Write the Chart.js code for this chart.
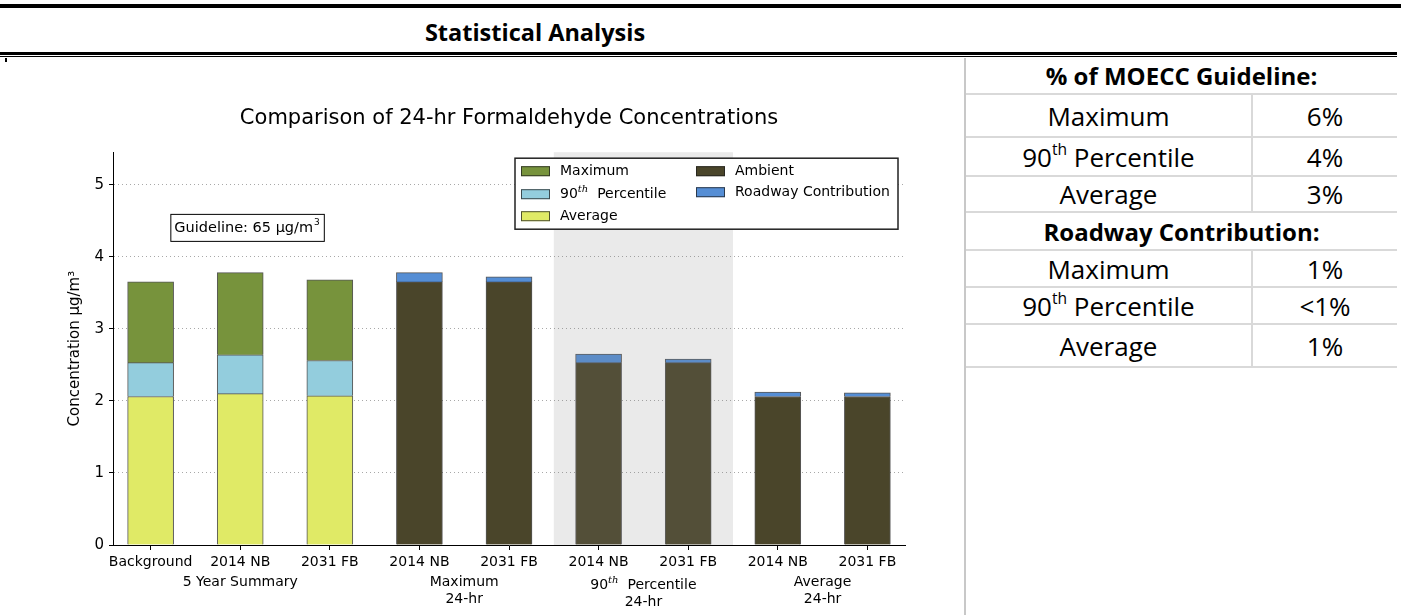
<!DOCTYPE html>
<html>
<head>
<meta charset="utf-8">
<script src="https://cdn.jsdelivr.net/npm/chart.js@4.4.0/dist/chart.umd.min.js"></script>
<style>
  body { margin: 0; background: #fff; width: 1401px; height: 615px; position: relative; overflow: hidden; font-family: 'Open Sans', sans-serif; color: #000; }
  .rule-top { position: absolute; left: 0; top: 4px; width: 1401px; height: 4px; background: #000; }
  .heading { position: absolute; left: 335px; width: 400px; top: 15px; text-align: center; font-weight: bold; font-size: 23.5px; line-height: 34px; }
  .rule-thick { position: absolute; left: 0; top: 52px; width: 1397px; height: 3px; background: #000; }
  .rule-thin { position: absolute; left: 0; top: 56px; width: 1397px; height: 1px; background: #000; }
  .mark { position: absolute; left: 5px; top: 58px; width: 2px; height: 4px; background: #000; }
  #chartBox { position: absolute; left: 0; top: 60px; width: 963px; height: 555px; }
  .side { position: absolute; left: 964px; top: 58px; width: 433px; height: 557px; border-left: 2px solid #c8c8c8; box-sizing: border-box; }
  .row { display: flex; align-items: center; box-sizing: border-box; border-bottom: 2px solid #d9d9d9; font-size: 26px; }
  .row.head { justify-content: center; font-weight: bold; font-size: 24px; }
  .row .lab { width: 287px; height: 100%; display: flex; align-items: center; justify-content: center; border-right: 2px solid #d9d9d9; box-sizing: border-box; }
  .row .val { flex: 1; text-align: center; }
  sup { font-size: 60%; line-height: 0; position: relative; top: -2px; }
</style>
</head>
<body>
<div class="rule-top"></div>
<div class="heading">Statistical Analysis</div>
<div class="rule-thick"></div>
<div class="rule-thin"></div>
<div class="mark"></div>
<div id="chartBox"><canvas id="chart"></canvas></div>
<div class="side" id="side"></div>
<script>
// categories along the x axis
const xLabels = ['Background', '2014 NB', '2031 FB', '2014 NB', '2031 FB', '2014 NB', '2031 FB', '2014 NB', '2031 FB'];

// 5 year summary bars (levels, ug/m3)
const summaryX = [0, 1, 2];
const averageTop = [2.06, 2.10, 2.07];
const p90Top = [2.53, 2.64, 2.56];
const maximumTop = [3.65, 3.78, 3.68];

// modelled scenario bars
const scenarioX = [3, 4, 5, 6, 7, 8];
const ambientTop = [3.65, 3.65, 2.53, 2.53, 2.06, 2.06];
const roadwayTop = [3.78, 3.72, 2.65, 2.58, 2.12, 2.11];

// group captions under the tick labels
const groupText = [['5 Year Summary'], ['Maximum', '24-hr'], ['90th Percentile', '24-hr'], ['Average', '24-hr']];
const groupCentre = [1, 3.5, 5.5, 7.5];

const yTicks = [0, 1, 2, 3, 4, 5];

// side table
const guidelineRows = [['Maximum', '6%'], ['90th Percentile', '4%'], ['Average', '3%']];
const roadwayRows = [['Maximum', '1%'], ['90th Percentile', '<1%'], ['Average', '1%']];

function sup90(s) {
  return '<span>' + s.replace('90th', '90<sup>th</sup>') + '</span>';
}

// build the table
const side = document.getElementById('side');
const rowHeights = [37, 43, 39, 36, 38, 37, 37, 43];
let html = '';
let r = 0;
html += `<div class="row head" style="height:${rowHeights[r++]}px">% of MOECC Guideline:</div>`;
guidelineRows.forEach(row => {
  html += `<div class="row" style="height:${rowHeights[r++]}px"><div class="lab">${sup90(row[0])}</div><div class="val">${row[1].replace('<', '&lt;')}</div></div>`;
});
html += `<div class="row head" style="height:${rowHeights[r++]}px">Roadway Contribution:</div>`;
roadwayRows.forEach(row => {
  html += `<div class="row" style="height:${rowHeights[r++]}px"><div class="lab">${sup90(row[0])}</div><div class="val">${row[1].replace('<', '&lt;')}</div></div>`;
});
side.innerHTML = html;

Chart.defaults.font.family = "'DejaVu Sans', sans-serif";
Chart.defaults.color = '#000';

const edge = 'rgba(30,30,30,0.75)';

// draw "90th" with a small italic th
function richParts(text, size) {
  if (text.startsWith('90th')) {
    return [
      { t: '90', font: `${size}px 'DejaVu Sans'`, dy: 0 },
      { t: 'th', font: `italic ${Math.round(size * 0.7)}px 'DejaVu Serif'`, dy: -size * 0.35 },
      { t: ' ' + text.slice(4), font: `${size}px 'DejaVu Sans'`, dy: 0 }
    ];
  }
  return [{ t: text, font: `${size}px 'DejaVu Sans'`, dy: 0 }];
}

function drawRich(ctx, text, size, x, y, align) {
  const parts = richParts(text, size);
  let total = 0;
  parts.forEach(p => { ctx.font = p.font; p.w = ctx.measureText(p.t).width; total += p.w; });
  let cx = align === 'center' ? x - total / 2 : x;
  ctx.textAlign = 'left';
  ctx.textBaseline = 'middle';
  parts.forEach(p => { ctx.font = p.font; ctx.fillText(p.t, cx, y + p.dy); cx += p.w; });
}

const extras = {
  id: 'extras',
  afterDatasetsDraw(chart) {
    const { ctx, chartArea, scales } = chart;
    // shaded band behind the 90th percentile pair
    const x0 = scales.x.getPixelForValue(4.5);
    const x1 = scales.x.getPixelForValue(6.5);
    ctx.save();
    ctx.fillStyle = 'rgba(132,132,132,0.17)';
    ctx.fillRect(x0, chartArea.top, x1 - x0, chartArea.bottom - chartArea.top);
    ctx.restore();
  },
  afterDraw(chart) {
    const { ctx, chartArea, scales } = chart;
    ctx.save();
    ctx.fillStyle = '#000';

    // group captions
    groupText.forEach((lines, i) => {
      const x = scales.x.getPixelForValue(groupCentre[i]);
      const shift = lines[0].startsWith('90th') ? 3 : 0;
      lines.forEach((line, j) => {
        drawRich(ctx, line, 14, x, chartArea.bottom + 37 + shift + j * 17, 'center');
      });
    });

    // guideline note
    const gx = scales.x.getPixelForValue(0.22);
    const gy = scales.y.getPixelForValue(4.40);
    ctx.font = "14.5px 'DejaVu Sans'";
    const gText = 'Guideline: 65 μg/m';
    const gw = ctx.measureText(gText).width;
    ctx.font = "9px 'DejaVu Sans'";
    const sw = ctx.measureText('3').width;
    const boxW = gw + sw + 9;
    ctx.fillStyle = '#fff';
    ctx.fillRect(gx, gy - 13.5, boxW, 27);
    ctx.strokeStyle = '#000';
    ctx.lineWidth = 1;
    ctx.strokeRect(gx + 0.5, gy - 13.5, boxW, 27);
    ctx.fillStyle = '#000';
    ctx.textBaseline = 'middle';
    ctx.textAlign = 'left';
    ctx.font = "14.5px 'DejaVu Sans'";
    ctx.fillText(gText, gx + 4, gy);
    ctx.font = "9px 'DejaVu Sans'";
    ctx.fillText('3', gx + 4 + gw + 1, gy - 5);

    // legend box in the top right of the plot
    const lw = 383, lh = 71;
    const lx = chartArea.right - 7 - lw;
    const ly = chartArea.top + 6;
    ctx.fillStyle = '#fff';
    ctx.fillRect(lx, ly, lw, lh);
    ctx.strokeStyle = '#222';
    ctx.lineWidth = 1.5;
    ctx.strokeRect(lx, ly, lw, lh);
    const byLabel = {};
    chart.data.datasets.forEach(d => { byLabel[d.label] = d; });
    const cols = [
      { names: ['Maximum', '90th Percentile', 'Average'], sx: 6, tx: 45, rows: [13, 36, 58] },
      { names: ['Ambient', 'Roadway Contribution'], sx: 181, tx: 220, rows: [13, 34] }
    ];
    cols.forEach(col => {
      col.names.forEach((name, i) => {
        const d = byLabel[name];
        const yy = ly + col.rows[i];
        ctx.fillStyle = d.backgroundColor;
        ctx.fillRect(lx + col.sx, yy - 5, 29, 10);
        ctx.strokeStyle = edge;
        ctx.lineWidth = 1;
        ctx.strokeRect(lx + col.sx + 0.5, yy - 4.5, 28, 9);
        ctx.fillStyle = '#000';
        drawRich(ctx, name, 14, lx + col.tx, yy, 'left');
      });
    });
    ctx.restore();
  }
};

function floating(xs, lows, highs) {
  return xs.map((x, i) => ({ x: x, y: [lows ? lows[i] : 0, highs[i]] }));
}

const barStyle = { borderColor: edge, borderWidth: 1, barThickness: 46, grouped: false };

new Chart(document.getElementById('chart').getContext('2d'), {
  type: 'bar',
  data: {
    datasets: [
      { label: 'Average', data: floating(summaryX, null, averageTop), backgroundColor: '#e0ea66', ...barStyle },
      { label: '90th Percentile', data: floating(summaryX, averageTop, p90Top), backgroundColor: '#93cddd', ...barStyle },
      { label: 'Maximum', data: floating(summaryX, p90Top, maximumTop), backgroundColor: '#77933c', ...barStyle },
      { label: 'Ambient', data: floating(scenarioX, null, ambientTop), backgroundColor: '#4a452a', ...barStyle },
      { label: 'Roadway Contribution', data: floating(scenarioX, ambientTop, roadwayTop), backgroundColor: '#558ed5', ...barStyle }
    ]
  },
  options: {
    responsive: true,
    maintainAspectRatio: false,
    animation: false,
    layout: { padding: { left: 0, right: 58, top: 0, bottom: 0 } },
    plugins: {
      legend: { display: false },
      tooltip: { enabled: false },
      title: {
        display: true,
        fullSize: false,
        text: 'Comparison of 24-hr Formaldehyde Concentrations',
        font: { size: 21, weight: 'normal' },
        color: '#000',
        padding: { top: 46, bottom: 21 }
      }
    },
    scales: {
      x: {
        type: 'linear',
        offset: false,
        min: -0.42,
        max: 8.42,
        afterBuildTicks: s => { s.ticks = xLabels.map((_, i) => ({ value: i })); },
        afterFit: s => { s.height = 70; },
        ticks: { autoSkip: false, maxRotation: 0, font: { size: 14 }, padding: 4, callback: v => xLabels[v] },
        grid: { offset: false, drawOnChartArea: false, tickLength: 5, tickColor: '#000' },
        border: { color: '#000', width: 1 }
      },
      y: {
        min: 0,
        max: 5.45,
        afterBuildTicks: s => { s.ticks = yTicks.map(v => ({ value: v })); },
        afterFit: s => { s.width = 113; },
        ticks: { font: { size: 15 }, padding: 5 },
        grid: {
          color: c => (c.tick && c.tick.value === 0 ? 'rgba(0,0,0,0)' : '#a8a8a8'),
          tickColor: '#000',
          tickLength: 4
        },
        border: { color: '#000', width: 1, dash: [1, 3] },
        title: { display: true, text: 'Concentration μg/m³', font: { size: 15 }, padding: { top: 66, bottom: 0 } }
      }
    }
  },
  plugins: [extras]
});
</script>
</body>
</html>
